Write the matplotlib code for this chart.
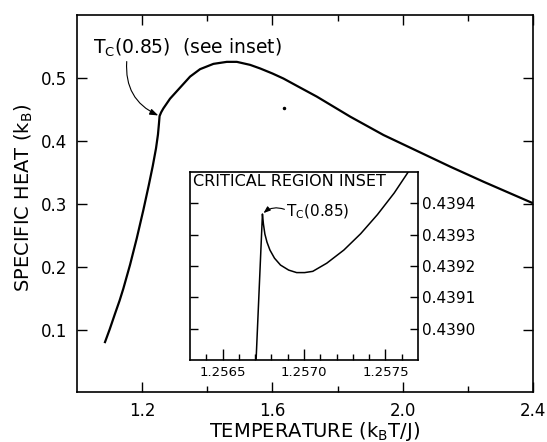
import matplotlib
matplotlib.use("Agg")
import matplotlib.pyplot as plt

plt.rcParams["font.family"] = ["DejaVu Sans"]
plt.rcParams["mathtext.default"] = "regular"

# main curve
temp = [1.0852, 1.1000, 1.1160, 1.1300, 1.1415, 1.1622, 1.1828, 1.2031,
        1.2200, 1.2320, 1.2420, 1.2480, 1.2510, 1.2530, 1.2580, 1.2646,
        1.2852, 1.3150, 1.3468, 1.3775, 1.4185, 1.4597, 1.4905, 1.5314,
        1.5622, 1.6000, 1.6338, 1.6800, 1.7366, 1.8391, 1.9415, 2.0443,
        2.1471, 2.2492, 2.4000]
heat = [0.0801, 0.1010, 0.1253, 0.1460, 0.1650, 0.2030, 0.2450, 0.2900,
        0.3300, 0.3600, 0.3880, 0.4100, 0.4270, 0.4394, 0.4455, 0.4515,
        0.4670, 0.4840, 0.5021, 0.5139, 0.5223, 0.5255, 0.5255, 0.5207,
        0.5150, 0.5070, 0.4990, 0.4860, 0.4702, 0.4384, 0.4092, 0.3840,
        0.3588, 0.3349, 0.3010]

# critical region inset
temp_in = [1.256706, 1.256745, 1.256751, 1.256760, 1.256773, 1.256791,
           1.256819, 1.256856, 1.256906, 1.256955, 1.257004, 1.257054,
           1.257140, 1.257245, 1.257348, 1.257451, 1.257554, 1.257640]
heat_in = [0.43890, 0.439366, 0.439334, 0.439302, 0.439276, 0.439251,
           0.439225, 0.439203, 0.439187, 0.439179, 0.439179, 0.439183,
           0.439209, 0.439251, 0.439303, 0.439364, 0.439433, 0.43950]

tc_main = (1.2530, 0.4394)
tc_inset = (1.256745, 0.439366)
speck = ([1.634], [0.4527])

x_major = [1.2, 1.6, 2.0, 2.4]
x_minor = [1.4, 1.8, 2.2]
y_major = [0.1, 0.2, 0.3, 0.4, 0.5]
xin_major = [1.2565, 1.2570, 1.2575]
xin_minor = [1.2564, 1.2566, 1.2567, 1.2568, 1.2569, 1.2571, 1.2572,
             1.2573, 1.2574, 1.2576]
yin_major = [0.4390, 0.4391, 0.4392, 0.4393, 0.4394]

fig = plt.figure(figsize=(5.47, 4.42), dpi=100)
ax = fig.add_axes([0.1413, 0.1120, 0.8325, 0.8541])

ax.plot(temp, heat, color="black", lw=1.6)
ax.plot(*speck, "k.", ms=3)
ax.set_xlim(1.0, 2.4)
ax.set_ylim(0.0, 0.6)

ax.set_xticks(x_major)
ax.set_xticklabels(["1.2", "1.6", "2.0", "2.4"])
ax.set_xticks(x_minor, minor=True)
ax.set_yticks(y_major)
ax.set_yticklabels(["0.1", "0.2", "0.3", "0.4", "0.5"])
ax.tick_params(which="both", direction="in", top=True, right=True,
               labelsize=12, width=1.0, pad=7)
ax.tick_params(which="major", length=7)
ax.tick_params(which="minor", length=4.5)
for s in ax.spines.values():
    s.set_linewidth(1.2)

ax.set_xlabel("TEMPERATURE (k$_B$T/J)", fontsize=14, va="center")
ax.xaxis.set_label_coords(0.52, -0.103)
ax.set_ylabel("SPECIFIC HEAT (k$_B$)", fontsize=14, va="center")
ax.yaxis.set_label_coords(-0.118, 0.515)

ax.text(1.048, 0.548, "T$_C$(0.85)  (see inset)", fontsize=13.5,
        ha="left", va="center")
ax.annotate("", xy=tc_main, xytext=(1.152, 0.526),
            arrowprops=dict(arrowstyle="-|>,head_length=0.5,head_width=0.18",
                            connectionstyle="arc3,rad=0.35", color="black",
                            lw=0.8, shrinkA=0, shrinkB=1))

# inset
axi = fig.add_axes([0.3473, 0.1855, 0.4168, 0.4253])
axi.set_facecolor("white")
axi.plot(temp_in, heat_in, color="black", lw=1.1)
axi.set_xlim(1.2563, 1.2577)
axi.set_ylim(0.4389, 0.4395)
axi.set_xticks(xin_major)
axi.set_xticklabels(["1.2565", "1.2570", "1.2575"])
axi.set_xticks(xin_minor, minor=True)
axi.set_yticks(yin_major)
axi.set_yticklabels(["0.4390", "0.4391", "0.4392", "0.4393", "0.4394"])
axi.tick_params(axis="x", which="both", direction="in", top=False,
                labelsize=9.5, pad=4, width=1.0)
axi.tick_params(axis="x", which="major", length=8)
axi.tick_params(axis="x", which="minor", length=4)
axi.tick_params(axis="y", direction="in", left=True, right=True,
                labelleft=False, labelright=True, labelsize=11, pad=3,
                length=6, width=1.0)
for s in axi.spines.values():
    s.set_linewidth(1.2)

axi.text(0.015, 0.952, "CRITICAL REGION INSET", transform=axi.transAxes,
         fontsize=11.5, ha="left", va="center")
axi.text(1.25689, 0.439374, "T$_C$(0.85)", fontsize=11,
         ha="left", va="center")
axi.annotate("", xy=tc_inset, xytext=(1.25688, 0.439381),
             arrowprops=dict(arrowstyle="-|>,head_length=0.4,head_width=0.15",
                             connectionstyle="arc3,rad=0.3", color="black",
                             lw=0.8, shrinkA=0, shrinkB=1))

fig.savefig("out.png", dpi=100)
